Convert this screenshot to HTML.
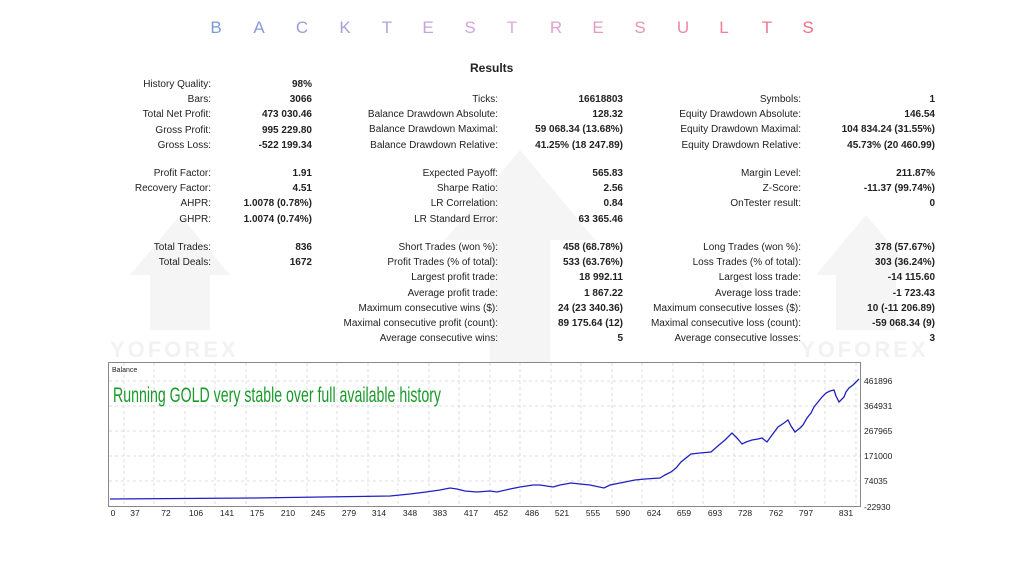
<!DOCTYPE html>
<html><head><meta charset="utf-8"><style>
body{margin:0;width:1024px;height:576px;background:#fff;position:relative;overflow:hidden;font-family:"Liberation Sans",sans-serif;}
.t{position:absolute;font-size:17px;top:18px;width:20px;text-align:center;}
.r{position:absolute;font-size:10px;color:#222;white-space:nowrap;line-height:15.2px;}
.l{text-align:right;}
.v{text-align:right;font-weight:bold;}
.wm{position:absolute;color:#f2f2f2;font-size:22px;font-weight:bold;letter-spacing:3px;}
</style></head><body>
<svg style="position:absolute;left:0;top:0" width="1024" height="576">
<g fill="#f5f5f5">
<polygon points="520,150 445,240 490,240 490,430 550,430 550,240 595,240"/>
<polygon points="180,215 130,275 150,275 150,330 210,330 210,275 230,275"/>
<polygon points="866,215 816,275 836,275 836,330 896,330 896,275 916,275"/>
</g></svg>
<div class="wm" style="left:110px;top:337px">YOFOREX</div>
<div class="wm" style="left:800px;top:337px">YOFOREX</div>

<div class="t" style="left:206px;color:#7b99d6">B</div>
<div class="t" style="left:249px;color:#8b9ad8">A</div>
<div class="t" style="left:292px;color:#9a9cdb">C</div>
<div class="t" style="left:335px;color:#a79fdc">K</div>
<div class="t" style="left:377px;color:#b6a2de">T</div>
<div class="t" style="left:418px;color:#c4a4de">E</div>
<div class="t" style="left:460px;color:#d2a5de">S</div>
<div class="t" style="left:502px;color:#dfa8dc">T</div>
<div class="t" style="left:546px;color:#e3a2cf">R</div>
<div class="t" style="left:588px;color:#e79ac0">E</div>
<div class="t" style="left:630px;color:#ea92b2">S</div>
<div class="t" style="left:673px;color:#ed88a5">U</div>
<div class="t" style="left:714px;color:#ef7e99">L</div>
<div class="t" style="left:757px;color:#f0768f">T</div>
<div class="t" style="left:798px;color:#f06c86">S</div>

<div class="r" style="left:470px;top:61px;font-size:12px;font-weight:bold">Results</div>

<div class="r l" style="left:60px;width:151px;top:77px">History Quality:<br>Bars:<br>Total Net Profit:<br>Gross Profit:<br>Gross Loss:</div>
<div class="r v" style="left:212px;width:100px;top:77px">98%<br>3066<br>473 030.46<br>995 229.80<br>-522 199.34</div>
<div class="r l" style="left:300px;width:198px;top:92px">Ticks:<br>Balance Drawdown Absolute:<br>Balance Drawdown Maximal:<br>Balance Drawdown Relative:</div>
<div class="r v" style="left:500px;width:123px;top:92px">16618803<br>128.32<br>59 068.34 (13.68%)<br>41.25% (18 247.89)</div>
<div class="r l" style="left:600px;width:201px;top:92px">Symbols:<br>Equity Drawdown Absolute:<br>Equity Drawdown Maximal:<br>Equity Drawdown Relative:</div>
<div class="r v" style="left:790px;width:145px;top:92px">1<br>146.54<br>104 834.24 (31.55%)<br>45.73% (20 460.99)</div>

<div class="r l" style="left:60px;width:151px;top:166px">Profit Factor:<br>Recovery Factor:<br>AHPR:<br>GHPR:</div>
<div class="r v" style="left:212px;width:100px;top:166px">1.91<br>4.51<br>1.0078 (0.78%)<br>1.0074 (0.74%)</div>
<div class="r l" style="left:300px;width:198px;top:166px">Expected Payoff:<br>Sharpe Ratio:<br>LR Correlation:<br>LR Standard Error:</div>
<div class="r v" style="left:500px;width:123px;top:166px">565.83<br>2.56<br>0.84<br>63 365.46</div>
<div class="r l" style="left:600px;width:201px;top:166px">Margin Level:<br>Z-Score:<br>OnTester result:</div>
<div class="r v" style="left:790px;width:145px;top:166px">211.87%<br>-11.37 (99.74%)<br>0</div>

<div class="r l" style="left:60px;width:151px;top:240px">Total Trades:<br>Total Deals:</div>
<div class="r v" style="left:212px;width:100px;top:240px">836<br>1672</div>
<div class="r l" style="left:300px;width:198px;top:240px">Short Trades (won %):<br>Profit Trades (% of total):<br>Largest profit trade:<br>Average profit trade:<br>Maximum consecutive wins ($):<br>Maximal consecutive profit (count):<br>Average consecutive wins:</div>
<div class="r v" style="left:500px;width:123px;top:240px">458 (68.78%)<br>533 (63.76%)<br>18 992.11<br>1 867.22<br>24 (23 340.36)<br>89 175.64 (12)<br>5</div>
<div class="r l" style="left:600px;width:201px;top:240px">Long Trades (won %):<br>Loss Trades (% of total):<br>Largest loss trade:<br>Average loss trade:<br>Maximum consecutive losses ($):<br>Maximal consecutive loss (count):<br>Average consecutive losses:</div>
<div class="r v" style="left:790px;width:145px;top:240px">378 (57.67%)<br>303 (36.24%)<br>-14 115.60<br>-1 723.43<br>10 (-11 206.89)<br>-59 068.34 (9)<br>3</div>

<svg style="position:absolute;left:0;top:0" width="1024" height="576" font-family="Liberation Sans, sans-serif">
<rect x="108.5" y="362.5" width="752" height="144" fill="#fff" stroke="#888"/>
<g stroke="#ddd" stroke-dasharray="3,3">
<line x1="109" x2="860" y1="381" y2="381"/><line x1="109" x2="860" y1="406" y2="406"/><line x1="109" x2="860" y1="431" y2="431"/><line x1="109" x2="860" y1="456" y2="456"/><line x1="109" x2="860" y1="481" y2="481"/>
<line x1="124" x2="124" y1="363" y2="506"/><line x1="154" x2="154" y1="363" y2="506"/><line x1="185" x2="185" y1="363" y2="506"/><line x1="215" x2="215" y1="363" y2="506"/><line x1="246" x2="246" y1="363" y2="506"/><line x1="276" x2="276" y1="363" y2="506"/><line x1="307" x2="307" y1="363" y2="506"/><line x1="337" x2="337" y1="363" y2="506"/><line x1="368" x2="368" y1="363" y2="506"/><line x1="398" x2="398" y1="363" y2="506"/><line x1="429" x2="429" y1="363" y2="506"/><line x1="459" x2="459" y1="363" y2="506"/><line x1="490" x2="490" y1="363" y2="506"/><line x1="520" x2="520" y1="363" y2="506"/><line x1="551" x2="551" y1="363" y2="506"/><line x1="581" x2="581" y1="363" y2="506"/><line x1="612" x2="612" y1="363" y2="506"/><line x1="642" x2="642" y1="363" y2="506"/><line x1="673" x2="673" y1="363" y2="506"/><line x1="703" x2="703" y1="363" y2="506"/><line x1="734" x2="734" y1="363" y2="506"/><line x1="764" x2="764" y1="363" y2="506"/><line x1="795" x2="795" y1="363" y2="506"/><line x1="825" x2="825" y1="363" y2="506"/><line x1="856" x2="856" y1="363" y2="506"/>
</g>
<text x="112" y="372" font-size="7" fill="#222">Balance</text>
<text x="113" y="402" font-size="21" fill="#1a9a2a" textLength="328" lengthAdjust="spacingAndGlyphs">Running GOLD very stable over full available history</text>
<polyline fill="none" stroke="#2020c0" stroke-width="1.3" points="110,499 253,498 390,496 410,494 426,492 440,490 450,488 457,489 465,491 477,492 490,491 497,492 510,489 520,487 533,485 540,485 553,487 560,485 571,483 580,484 590,485 604,488 610,485 625,482 635,480 645,479 660,478 665,475 671,472 676,468 681,462 686,458 691,454 700,453 711,452 719,445 725,440 732,433 737,438 742,444 746,442 752,440 758,439 762,438 767,442 772,435 778,427 784,423 788,420 791,426 795,432 800,428 803,425 807,418 811,413 814,407 818,402 822,397 826,393 830,391 834,390 836,396 839,402 842,399 844,397 846,392 849,388 853,385 856,382 859,379"/>
<g font-size="8.5" fill="#222">
<text x="864" y="384">461896</text><text x="864" y="409">364931</text><text x="864" y="434">267965</text><text x="864" y="459">171000</text><text x="864" y="484">74035</text><text x="864" y="510">-22930</text>
</g>
<g font-size="8.5" fill="#222" text-anchor="middle">
<text x="113" y="516">0</text><text x="135" y="516">37</text><text x="166" y="516">72</text><text x="196" y="516">106</text><text x="227" y="516">141</text><text x="257" y="516">175</text><text x="288" y="516">210</text><text x="318" y="516">245</text><text x="349" y="516">279</text><text x="379" y="516">314</text><text x="410" y="516">348</text><text x="440" y="516">383</text><text x="471" y="516">417</text><text x="501" y="516">452</text><text x="532" y="516">486</text><text x="562" y="516">521</text><text x="593" y="516">555</text><text x="623" y="516">590</text><text x="654" y="516">624</text><text x="684" y="516">659</text><text x="715" y="516">693</text><text x="745" y="516">728</text><text x="776" y="516">762</text><text x="806" y="516">797</text><text x="846" y="516">831</text>
</g>
</svg>
</body></html>
